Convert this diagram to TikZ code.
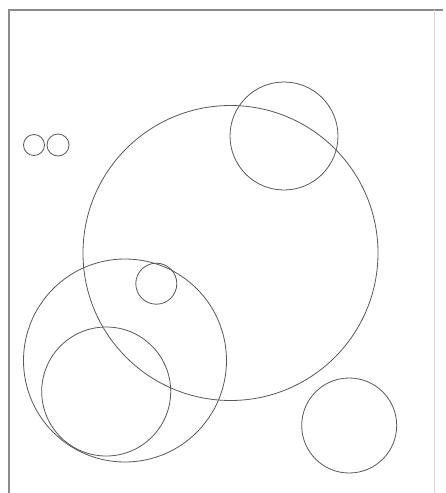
\documentclass[tikz,border=0pt]{standalone}
\begin{document}
\begin{tikzpicture}[x=1pt,y=-1pt,
  circ/.style={draw=black!65,line width=0.8pt,circle,inner sep=0pt,outer sep=0pt},
  frameline/.style={draw=black!45,line width=1.3pt},
  faintline/.style={draw=black!15,line width=1pt}]
\useasboundingbox (0,0) rectangle (445,493);
\fill[white] (0,0) rectangle (445,493);
% frame
\draw[frameline] (9,493) -- (9,10) -- (443,10);
\draw[faintline] (434,10) -- (434,493);
% circles
\node[circ,minimum size=21pt] (s1) at (34,145) {};
\node[circ,minimum size=22pt] (s2) at (58,145) {};
\node[circ,minimum size=295pt] (big) at (230.5,253) {};
\node[circ,minimum size=108pt] (tr) at (284,136) {};
\node[circ,minimum size=41pt] (mid) at (156.3,283.7) {};
\node[circ,minimum size=203pt] (ll) at (125,360.5) {};
\node[circ,minimum size=129pt] (lli) at (106.2,391.5) {};
\node[circ,minimum size=95pt] (br) at (349.2,425.5) {};
\end{tikzpicture}
\end{document}
